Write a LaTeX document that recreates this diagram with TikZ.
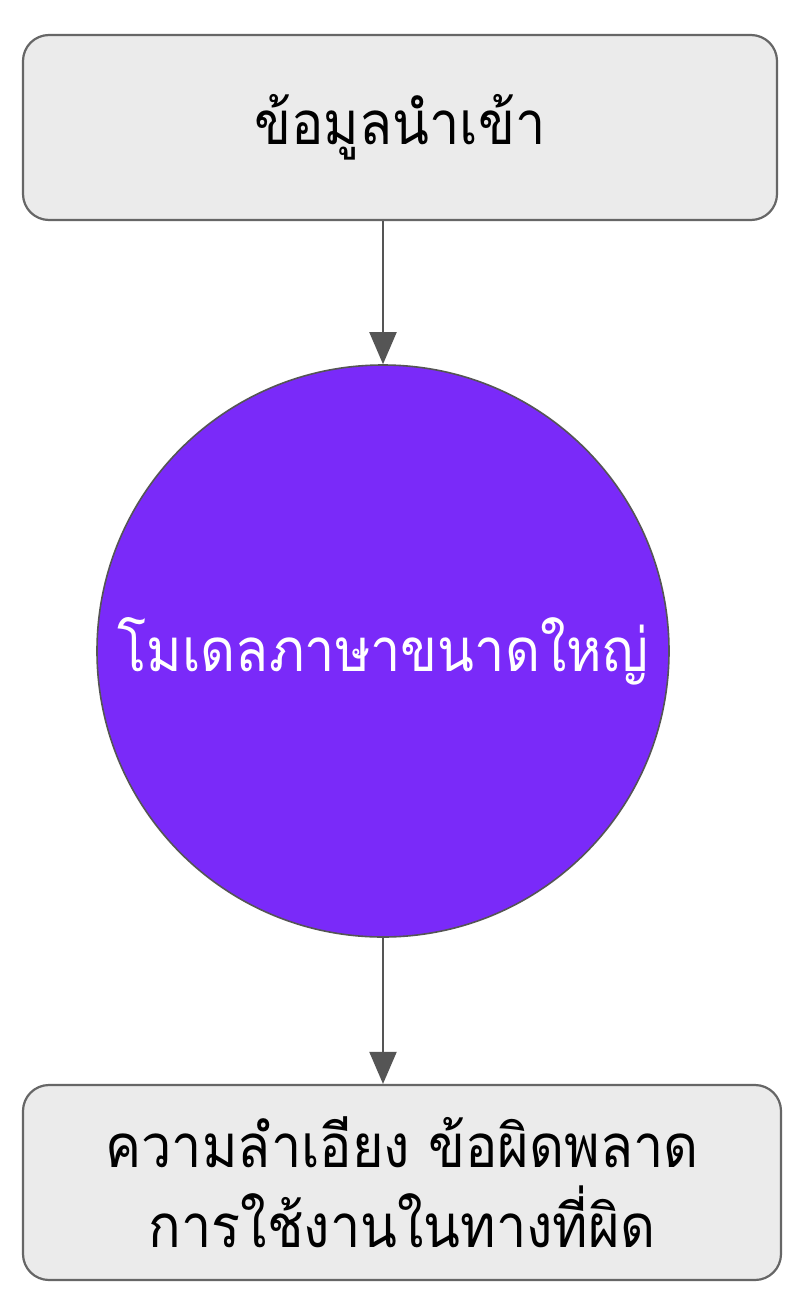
\documentclass[tikz,border=0pt]{standalone}
\usepackage{fontspec}
\newfontfamily\thaifont[Script=Thai,FakeStretch=0.9]{Loma}
\usetikzlibrary{arrows.meta}
\definecolor{boxfill}{HTML}{EBEBEB}
\definecolor{boxline}{HTML}{666666}
\definecolor{llmfill}{HTML}{7A2AF9}
\definecolor{flowgray}{HTML}{555555}

\begin{document}
\begin{tikzpicture}[x=0.5pt,y=-0.5pt,
  box/.style={draw=boxline,fill=boxfill,line width=1.1pt,rounded corners=13pt,
    inner sep=0pt,align=center,font=\thaifont\fontsize{30}{40}\selectfont},
  llm/.style={circle,draw=flowgray,fill=llmfill,line width=0.8pt,inner sep=0pt,
    minimum size=286pt},
  llmtext/.style={text=white,font=\thaifont\fontsize{30}{40}\selectfont},
  flow/.style={draw=flowgray,line width=1pt,-{Triangle[length=16pt,width=13.5pt]}}]
\fill[white] (0,0) rectangle (812,1312);
\useasboundingbox (0,0) rectangle (812,1312);
% nodes
\node[box,minimum width=377pt,minimum height=92.5pt] (input) at (400,127.5) {ข้อมูลนำเข้า};
\node[llm,label={[llmtext]center:โมเดลภาษาขนาดใหญ่}] (model) at (383,651) {};
\node[box,minimum width=379pt,minimum height=97.5pt] (output) at (402,1182.5)
  {ความลำเอียง ข้อผิดพลาด\\การใช้งานในทางที่ผิด};
% connectors
\draw[flow] (model.north |- input.south) -- (model.north);
\draw[flow] (model.south) -- (model.south |- output.north);
\end{tikzpicture}
\end{document}
